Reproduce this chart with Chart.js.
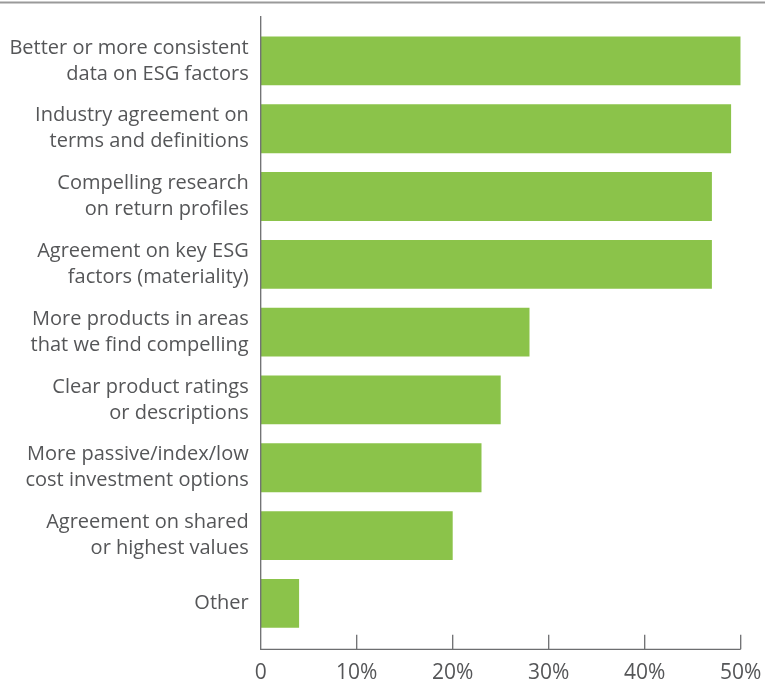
<!DOCTYPE html>
<html>
<head>
<meta charset="utf-8">
<script src="https://cdn.jsdelivr.net/npm/chart.js@4"></script>
<style>
   html, body { margin: 0; padding: 0; background: #fff; }
   canvas { display: block; }
</style>
</head>
<body>
<canvas id="chart" width="775" height="682"></canvas>
<script>
// survey categories, top to bottom
const categories = [
   ["Better or more consistent", "data on ESG factors"],
   ["Industry agreement on", "terms and definitions"],
   ["Compelling research", "on return profiles"],
   ["Agreement on key ESG", "factors (materiality)"],
   ["More products in areas", "that we find compelling"],
   ["Clear product ratings", "or descriptions"],
   ["More passive/index/low", "cost investment options"],
   ["Agreement on shared", "or highest values"],
   "Other",
];

// share of respondents, %
const shares = [50, 49, 47, 47, 28, 25, 23, 20, 4];

const tickValues = [0, 10, 20, 30, 40, 50];

const GREEN = "#8bc34a";
const TEXT = "#555658";
const AXIS = "#6d6e70";

// axis lines drawn just outside the plot area, ticks pointing up
const axesPlugin = {
   id: "axes",
   afterDraw(chart) {
      const { ctx, chartArea, scales } = chart;
      const x = scales.x;
      const left = x.getPixelForValue(0);
      const right = x.getPixelForValue(50);
      const base = chartArea.bottom + 12;

      ctx.save();

      // rule across the top
      ctx.strokeStyle = "#9a9a9a";
      ctx.lineWidth = 2;
      ctx.beginPath();
      ctx.moveTo(0, 2.5);
      ctx.lineTo(765, 2.5);
      ctx.stroke();

      ctx.strokeStyle = AXIS;
      ctx.lineWidth = 1.3;
      ctx.beginPath();
      ctx.moveTo(left, chartArea.top - 11);
      ctx.lineTo(left, base);
      ctx.lineTo(right, base);
      tickValues.forEach((v) => {
         const px = x.getPixelForValue(v);
         ctx.moveTo(px, base);
         ctx.lineTo(px, base - 14.5);
      });
      ctx.stroke();
      ctx.restore();
   },
};

const data = {
   labels: categories,
   datasets: [
      {
         data: shares,
         backgroundColor: GREEN,
         borderWidth: 0,
         barPercentage: 0.72,
         categoryPercentage: 1,
      },
   ],
};

const config = {
   type: "bar",
   data: data,
   options: {
      indexAxis: "y",
      responsive: false,
      animation: false,
      devicePixelRatio: 1,
      layout: { padding: { top: 27, right: 34.3, bottom: 1, left: 0 } },
      plugins: {
         legend: { display: false },
         tooltip: { enabled: false },
      },
      scales: {
         x: {
            min: 0,
            max: 50,
            afterBuildTicks: (scale) => {
               scale.ticks = tickValues.map((v) => ({ value: v }));
            },
            afterFit: (scale) => {
               scale.height = 43.7;
               scale.paddingLeft = 0;
               scale.paddingRight = 0;
            },
            grid: { display: false, drawTicks: false },
            border: { display: false },
            ticks: {
               padding: 23,
               color: TEXT,
               font: { family: "Open Sans", size: 21 },
               callback: (v) => (v === 0 ? "0" : v + "%"),
            },
         },
         y: {
            afterFit: (scale) => {
               scale.width = 260.7;
            },
            grid: { display: false, drawTicks: false },
            border: { display: false },
            ticks: {
               padding: 12,
               color: TEXT,
               font: { family: "Open Sans", size: 20, lineHeight: 1.3 },
            },
         },
      },
   },
   plugins: [axesPlugin],
};

const myChart = new Chart(document.getElementById("chart"), config);
</script>
</body>
</html>
